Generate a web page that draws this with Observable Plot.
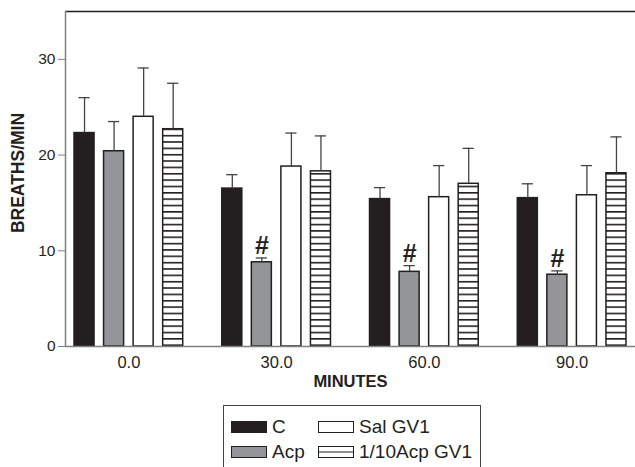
<!DOCTYPE html>
<html><head><meta charset="utf-8">
<script src="https://cdn.jsdelivr.net/npm/d3@7"></script>
<script src="https://cdn.jsdelivr.net/npm/@observablehq/plot@0.6"></script>
<style>
body{margin:0;background:#fff;font-family:"Liberation Sans",Arial,Helvetica,sans-serif;}
#chart{position:relative;width:635px;height:467px;overflow:hidden;}
#chart svg{display:block;}
#legend{position:absolute;left:223px;top:405px;width:258px;height:90px;border:1px solid #444;box-sizing:border-box;}
.item{position:absolute;height:22px;display:flex;align-items:center;font-size:19px;line-height:22px;color:#231f20;white-space:nowrap;}
.item span{font-size:19px;}
.item svg{margin-right:5px;flex:none;}
</style></head><body><div id="chart"></div>
<script>
// ---- data ----
const minutes = ["0.0", "30.0", "60.0", "90.0"];
const seriesNames = ["C", "Acp", "Sal GV1", "1/10Acp GV1"];
const meanC   = [22.3, 16.5, 15.4, 15.5];
const semC    = [3.7, 1.45, 1.2, 1.5];
const meanAcp = [20.4, 8.8, 7.8, 7.5];
const semAcp  = [3.1, 0.45, 0.65, 0.4];
const meanSal = [24.0, 18.8, 15.6, 15.8];
const semSal  = [5.1, 3.5, 3.3, 3.1];
const meanTen = [22.7, 18.3, 17.0, 18.1];
const semTen  = [4.8, 3.7, 3.7, 3.8];
const sigAcp  = [false, true, true, true];
const yTicks  = [0, 10, 20, 30];
const xLabel = "MINUTES";
const yLabel = "BREATHS/MIN";

// ---- build table ----
const means = [meanC, meanAcp, meanSal, meanTen];
const sems  = [semC, semAcp, semSal, semTen];
const sigs  = [null, sigAcp, null, null];
const slotsPerGroup = 5; // 4 bars + one gap slot
const rows = [];
minutes.forEach((m, g) => {
  seriesNames.forEach((s, k) => {
    rows.push({minute: m, series: s, pos: g * slotsPerGroup + k,
      value: means[k][g], top: means[k][g] + sems[k][g], sig: sigs[k] ? sigs[k][g] : false});
  });
});
const groupCenters = minutes.map((m, g) => g * slotsPerGroup + 1.5);
const half = 0.339, capHalf = 0.19;
const xMin = -0.644, xMax = (minutes.length - 1) * slotsPerGroup + 3 + 0.644;

const font = '"Liberation Sans",Arial,Helvetica,sans-serif';
const plot = Plot.plot({
  width: 635, height: 400,
  marginLeft: 65, marginRight: 0, marginTop: 11, marginBottom: 54,
  style: {fontFamily: font, color: "#231f20", background: "transparent", overflow: "visible"},
  x: {domain: [xMin, xMax], axis: null},
  y: {domain: [0, 35], axis: null},
  color: {domain: seriesNames, range: ["#231f20", "#939598", "#ffffff", "url(#stripes)"]},
  marks: [
    Plot.rectY(rows, {x1: d => d.pos - half, x2: d => d.pos + half, y1: 0, y2: "value",
      fill: "series", stroke: "#231f20", strokeWidth: 1.5}),
    Plot.ruleX(rows, {x: "pos", y1: "value", y2: "top", stroke: "#444", strokeWidth: 1.3}),
    Plot.ruleY(rows, {y: "top", x1: d => d.pos - capHalf, x2: d => d.pos + capHalf, stroke: "#444", strokeWidth: 1.3}),
    Plot.text(rows.filter(d => d.sig), {x: "pos", y: "top", text: () => "#", dy: -12,
      fontSize: 25, fontWeight: "bold", fill: "#231f20"}),
    Plot.ruleY([35], {stroke: "#231f20", strokeWidth: 1.5}),
    Plot.ruleY([0], {stroke: "#808080", strokeWidth: 1.5}),
    Plot.ruleX([xMin], {stroke: "#808080", strokeWidth: 1.5}),
    Plot.axisY({ticks: yTicks, tickSize: 7, tickPadding: 3, fontSize: 15.5, stroke: "#808080", label: null}),
    Plot.axisX({ticks: groupCenters, tickFormat: d => minutes[Math.round((d - 1.5) / slotsPerGroup)],
      tickSize: 0, tickPadding: 10, fontSize: 16.5, label: null}),
    Plot.text([yLabel], {frameAnchor: "left", textAnchor: "middle", rotate: -90, dx: -47, dy: -6,
      fontSize: 17.5, fontWeight: "bold", fill: "#231f20"}),
    Plot.text([xLabel], {frameAnchor: "bottom", dy: 40, fontSize: 16.5, fontWeight: "bold", fill: "#231f20"})
  ]
});
const ns = "http://www.w3.org/2000/svg";
const defs = document.createElementNS(ns, "defs");
defs.innerHTML = '<pattern id="stripes" patternUnits="userSpaceOnUse" width="8" height="6.35" y="1.5">' +
  '<rect width="8" height="6.35" fill="#fff"/><rect y="0" width="8" height="1.6" fill="#231f20"/></pattern>';
plot.insertBefore(defs, plot.firstChild);
const chart = document.getElementById("chart");
chart.appendChild(plot);

// ---- legend ----
const legend = document.createElement("div");
legend.id = "legend";
chart.appendChild(legend);
const swatch = {
  "C": '<rect x="0.5" y="0.5" width="35" height="11" fill="#231f20" stroke="#231f20"/>',
  "Acp": '<rect x="0.5" y="0.5" width="35" height="11" fill="#939598" stroke="#231f20"/>',
  "Sal GV1": '<rect x="0.5" y="0.5" width="35" height="11" fill="#fff" stroke="#231f20"/>',
  "1/10Acp GV1": '<rect x="0.5" y="0.5" width="35" height="11" fill="#fff" stroke="#231f20"/><line x1="0" x2="36" y1="6" y2="6" stroke="#231f20"/>'
};
const legendPos = [[7, 21], [7, 46], [94, 21], [94, 46]]; // C, Acp, Sal, 1/10
seriesNames.forEach((s, k) => {
  const it = document.createElement("div");
  it.className = "item";
  it.style.left = legendPos[k][0] + "px";
  it.style.top = legendPos[k][1] - 11 + "px";
  it.innerHTML = '<svg width="36" height="12">' + swatch[s] + '</svg><span>' + s + '</span>';
  legend.appendChild(it);
});
</script></body></html>
